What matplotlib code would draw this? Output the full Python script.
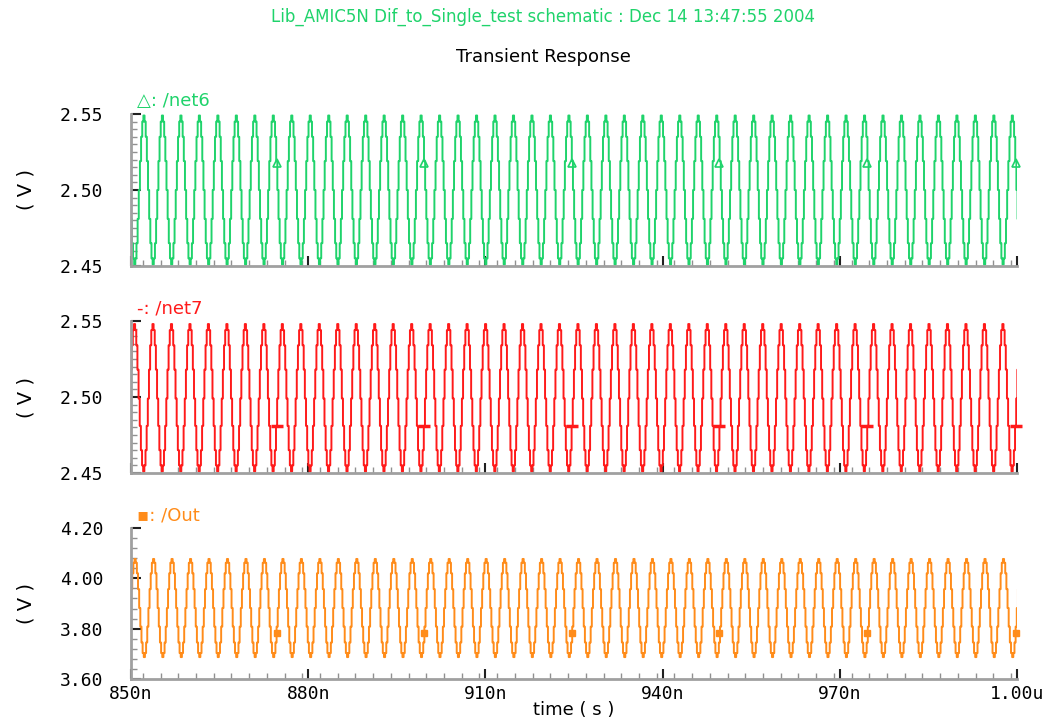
import numpy as np
import matplotlib
matplotlib.use("Agg")
import matplotlib.pyplot as plt
from matplotlib.ticker import FixedLocator, MultipleLocator

# time axis (ns)
t_min, t_max = 850.0, 1000.0
x_ticks = [850, 880, 910, 940, 970, 1000]
x_labels = ["850n", "880n", "910n", "940n", "970n", "1.00u"]

# period read from the spacing of the peaks
period_ns = 3.128
n_cycles = 50

# one cycle of each trace, starting at a peak (V)
net6_cycle = [2.549, 2.545, 2.535, 2.519, 2.500, 2.481, 2.465, 2.455,
              2.451, 2.455, 2.465, 2.481, 2.500, 2.519, 2.535, 2.545]
net7_cycle = [2.548, 2.544, 2.534, 2.518, 2.499, 2.481, 2.465, 2.455,
              2.451, 2.455, 2.465, 2.481, 2.499, 2.518, 2.534, 2.544]
out_cycle = [4.077, 4.062, 4.020, 3.957, 3.882, 3.808, 3.745, 3.703,
             3.687, 3.703, 3.745, 3.808, 3.882, 3.957, 4.020, 4.062]

# time of a peak before the window (ns)
net6_first_peak = 845.94
net7_first_peak = 847.47
out_first_peak = 847.57

# marker positions
marker_t = [874.7, 899.6, 924.7, 949.6, 974.6, 999.9]
net6_marker_v = 2.518
net7_marker_v = 2.481
out_marker_v = 3.783

green = "#1fd36b"
red = "#ff1a1a"
orange = "#ff8c1a"


def trace(cycle, first_peak):
    v = np.tile(cycle, n_cycles)
    t = first_peak + np.arange(len(v)) * period_ns / len(cycle)
    return t, v


fig = plt.figure(figsize=(10.56, 7.28), dpi=100)
W, H = 1056, 728


def panel(top, bottom, ylim, yticks, ylabels, yminor):
    ax = fig.add_axes([131 / W, 1 - bottom / H, (1017 - 131) / W, (bottom - top) / H])
    ax.set_xlim(t_min, t_max)
    ax.set_ylim(*ylim)
    for s in ["top", "right"]:
        ax.spines[s].set_visible(False)
    for s in ["left", "bottom"]:
        ax.spines[s].set_color("#a0a0a0")
        ax.spines[s].set_linewidth(2)
    ax.xaxis.set_major_locator(FixedLocator(x_ticks))
    ax.xaxis.set_minor_locator(MultipleLocator(3))
    ax.yaxis.set_major_locator(FixedLocator(yticks))
    ax.yaxis.set_minor_locator(MultipleLocator(yminor))
    ax.set_yticklabels(ylabels, family="DejaVu Sans Mono", fontsize=13)
    ax.tick_params(which="major", direction="in", length=7, width=1.5, color="#202020")
    ax.tick_params(which="minor", direction="in", length=4, width=1, color="#909090")
    ax.tick_params(axis="y", pad=20)
    ax.set_xticklabels([])
    ax.set_ylabel("( V )", fontsize=14)
    ax.yaxis.set_label_coords(-0.108, 0.5)
    return ax


ax1 = panel(114, 266, (2.45, 2.55), [2.45, 2.50, 2.55], ["2.45", "2.50", "2.55"], 0.005)
ax2 = panel(321, 473, (2.45, 2.55), [2.45, 2.50, 2.55], ["2.45", "2.50", "2.55"], 0.005)
ax3 = panel(528, 679, (3.60, 4.20), [3.60, 3.80, 4.00, 4.20],
            ["3.60", "3.80", "4.00", "4.20"], 0.04)

t, v = trace(net6_cycle, net6_first_peak)
ax1.plot(t, v, color=green, lw=1.4, drawstyle="steps-mid")
ax1.plot(marker_t, [net6_marker_v] * len(marker_t), ls="none", marker="^",
         mfc="none", mec=green, ms=6, mew=1.2, clip_on=False)

t, v = trace(net7_cycle, net7_first_peak)
ax2.plot(t, v, color=red, lw=1.4, drawstyle="steps-mid")
ax2.plot(marker_t, [net7_marker_v] * len(marker_t), ls="none", marker="_",
         color=red, ms=9, mew=2.5, clip_on=False)

t, v = trace(out_cycle, out_first_peak)
ax3.plot(t, v, color=orange, lw=1.4, drawstyle="steps-mid")
ax3.plot(marker_t, [out_marker_v] * len(marker_t), ls="none", marker="s",
         color=orange, ms=4, clip_on=False)

ax3.set_xticklabels(x_labels, family="DejaVu Sans Mono", fontsize=13)
ax3.tick_params(axis="x", pad=4)
ax3.set_xlabel("time ( s )", fontsize=13, labelpad=-1)

fig.text(137 / W, 1 - 101 / H, "\u25b3: /net6", color=green, fontsize=13,
         va="center", family=["DejaVu Sans"])
fig.text(137 / W, 1 - 308 / H, "-: /net7", color=red, fontsize=13, va="center")
fig.text(137 / W, 1 - 516 / H, "\u25aa: /Out", color=orange, fontsize=13, va="center")

fig.text(543 / W, 1 - 17 / H,
         "Lib_AMIC5N Dif_to_Single_test schematic : Dec 14 13:47:55 2004",
         color=green, fontsize=12, ha="center", va="center")
fig.text(543 / W, 1 - 57 / H, "Transient Response", color="black",
         fontsize=13, ha="center", va="center")

fig.savefig("out.png", dpi=100)
